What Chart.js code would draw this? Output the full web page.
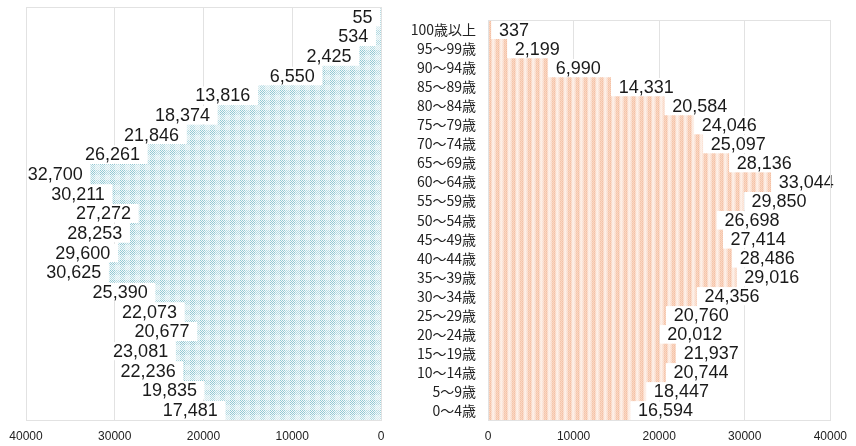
<!DOCTYPE html>
<html lang="ja">
<head>
<meta charset="utf-8">
<title>人口ピラミッド</title>
<script src="https://cdn.jsdelivr.net/npm/chart.js@4/dist/chart.umd.min.js"></script>
<style>
  html, body { margin: 0; padding: 0; background: #ffffff; }
  #wrap { position: relative; width: 856px; height: 446px; overflow: hidden; }
  #male { position: absolute; left: 0; top: 0; }
  #female { position: absolute; left: 400px; top: 0; }
</style>
</head>
<body>
<div id="wrap">
  <canvas id="male" width="400" height="446"></canvas>
  <canvas id="female" width="456" height="446"></canvas>
</div>
<script>
// Age groups, oldest at the top
const ageGroups = [
  '100歳以上', '95～99歳', '90～94歳', '85～89歳', '80～84歳', '75～79歳', '70～74歳',
  '65～69歳', '60～64歳', '55～59歳', '50～54歳', '45～49歳', '40～44歳', '35～39歳',
  '30～34歳', '25～29歳', '20～24歳', '15～19歳', '10～14歳', '5～9歳', '0～4歳'
];

// Population by age group
const maleCounts = [
  55, 534, 2425, 6550, 13816, 18374, 21846, 26261, 32700, 30211, 27272,
  28253, 29600, 30625, 25390, 22073, 20677, 23081, 22236, 19835, 17481
];
const femaleCounts = [
  337, 2199, 6990, 14331, 20584, 24046, 25097, 28136, 33044, 29850, 26698,
  27414, 28486, 29016, 24356, 20760, 20012, 21937, 20744, 18447, 16594
];

// Population axis ticks
const axisMax = 40000;
const axisStep = 10000;

// ---- fill textures ----
function makeTile(w, h, painter) {
  const c = document.createElement('canvas');
  c.width = w; c.height = h;
  const g = c.getContext('2d');
  painter(g);
  return g.createPattern(c, 'repeat');
}

// pale blue dotted plaid
const bluePattern = makeTile(10, 10, g => {
  g.fillStyle = '#f4f9fa';
  g.fillRect(0, 0, 10, 10);
  for (let y = 0; y < 10; y++) {
    for (let x = 0; x < 10; x++) {
      const band = (x < 5) || (y < 5);
      const both = (x < 5) && (y < 5);
      if ((x + y) % 2 === 0) {
        g.fillStyle = both ? '#92c8d3' : (band ? '#b2dae2' : '#d5ebef');
        g.fillRect(x, y, 1, 1);
      }
    }
  }
});

// soft peach vertical stripes
const orangePattern = makeTile(8, 2, g => {
  const cols = ['#f6c4a8', '#f7c9af', '#f5c0a3', '#f9d6c3', '#fde8dc', '#fdece3', '#fbe1d3', '#f9d8c6'];
  for (let x = 0; x < 8; x++) {
    g.fillStyle = cols[x];
    g.fillRect(x, 0, 1, 2);
    g.fillStyle = 'rgba(255,255,255,0.3)';
    g.fillRect(x, (x % 2), 1, 1);
  }
});

// ---- plugins ----
const frameColor = '#e2e2e2';

const plotFrame = {
  id: 'plotFrame',
  afterDraw(chart) {
    const { ctx, chartArea: a } = chart;
    ctx.save();
    ctx.strokeStyle = frameColor;
    ctx.lineWidth = 1;
    ctx.strokeRect(Math.round(a.left) + 0.5, Math.round(a.top) + 0.5,
                   Math.round(a.right - a.left), Math.round(a.bottom - a.top));
    ctx.restore();
  }
};

// value labels on a white plate just past the bar end
const valueLabels = {
  id: 'valueLabels',
  afterDatasetsDraw(chart, args, opts) {
    const { ctx } = chart;
    const meta = chart.getDatasetMeta(0);
    const data = chart.data.datasets[0].data;
    ctx.save();
    ctx.font = '18px "Liberation Sans", Arial, sans-serif';
    ctx.textBaseline = 'middle';
    meta.data.forEach((bar, i) => {
      const text = data[i].toLocaleString('en-US');
      const w = ctx.measureText(text).width;
      const gap = 8;
      const plateH = 18;
      let left, right, tx;
      if (opts.side === 'left') {
        right = bar.x - 1;
        tx = bar.x - gap;
        left = tx - w - 2;
        ctx.textAlign = 'right';
      } else {
        left = bar.x + 1;
        tx = bar.x + gap;
        right = tx + w + 2;
        ctx.textAlign = 'left';
      }
      ctx.fillStyle = '#ffffff';
      ctx.fillRect(left, bar.y - plateH / 2, right - left, plateH);
      ctx.fillStyle = '#1a1a1a';
      ctx.fillText(text, tx, bar.y + 1);
    });
    ctx.restore();
  }
};

const tickFont = { family: '"Liberation Sans", Arial, sans-serif', size: 12 };

function xScale(reverse) {
  return {
    type: 'linear',
    reverse: reverse,
    min: 0,
    max: axisMax,
    grid: { color: frameColor, drawTicks: false },
    border: { display: false },
    ticks: {
      stepSize: axisStep,
      padding: 9,
      color: '#222222',
      font: tickFont,
      maxRotation: 0,
      callback: v => String(v)
    },
    afterFit(scale) { scale.height = 26; }
  };
}

const common = {
  indexAxis: 'y',
  responsive: false,
  animation: false,
  events: [],
  plugins: { legend: { display: false }, tooltip: { enabled: false } }
};

new Chart(document.getElementById('male'), {
  type: 'bar',
  data: {
    labels: ageGroups,
    datasets: [{
      label: '男性',
      data: maleCounts,
      backgroundColor: bluePattern,
      borderWidth: 0,
      barPercentage: 1,
      categoryPercentage: 1
    }]
  },
  options: {
    ...common,
    layout: { padding: { left: 26, right: 19, top: 7, bottom: 0 } },
    scales: {
      x: xScale(true),
      y: { display: false, grid: { display: false } }
    },
    plugins: { ...common.plugins, valueLabels: { side: 'left' } }
  },
  plugins: [valueLabels, plotFrame]
});

new Chart(document.getElementById('female'), {
  type: 'bar',
  data: {
    labels: ageGroups,
    datasets: [{
      label: '女性',
      data: femaleCounts,
      backgroundColor: orangePattern,
      borderWidth: 0,
      barPercentage: 1,
      categoryPercentage: 1
    }]
  },
  options: {
    ...common,
    layout: { padding: { left: 0, right: 19, top: 7, bottom: 0 } },
    scales: {
      x: xScale(false),
      y: {
        grid: { display: false, drawTicks: false },
        border: { display: false },
        ticks: {
          autoSkip: false,
          padding: 12,
          color: '#222222',
          font: { family: '"Noto Sans CJK JP", "Noto Sans", sans-serif', size: 14 }
        },
        afterFit(scale) { scale.width = 88; }
      }
    },
    plugins: { ...common.plugins, valueLabels: { side: 'right' } }
  },
  plugins: [valueLabels, plotFrame]
});
</script>
</body>
</html>
